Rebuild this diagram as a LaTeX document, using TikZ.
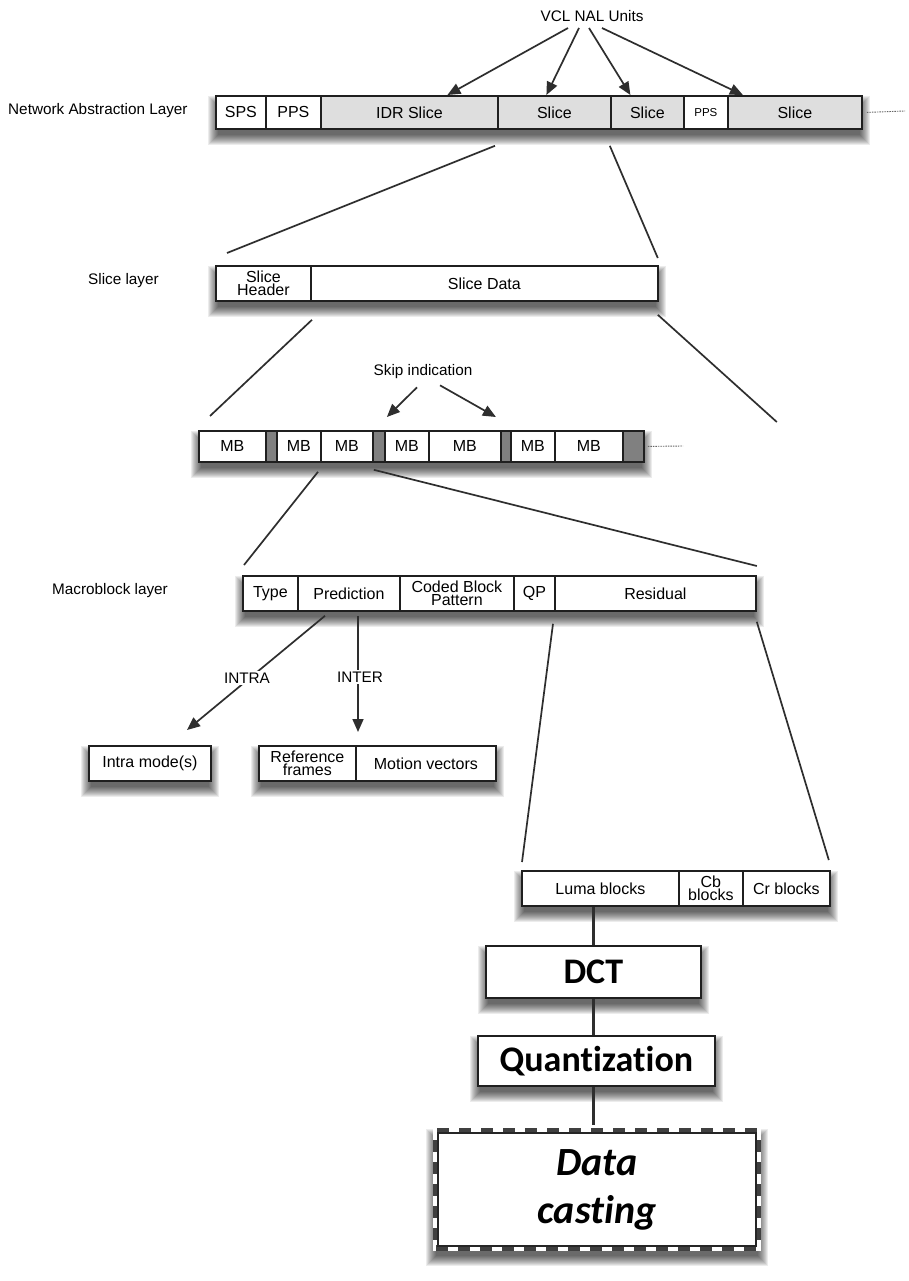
\documentclass[tikz,border=0pt]{standalone}
\usepackage{fontspec}
\setmainfont{Liberation Sans}
\newfontfamily\calib{Carlito}[Ligatures=NoCommon]
\usetikzlibrary{calc,arrows.meta}
\pgfdeclarelayer{bglayer}
\pgfdeclarelayer{shadowlayer}
\pgfsetlayers{bglayer,shadowlayer,main}

% soft drop shadow under the box spanned by two corner anchors
\newcommand\softshadow[2]{%
  \foreach \e in {-3,-2,...,7}{%
    \fill[black,opacity=0.075] ($(#1)+({-(\e)},{8-(\e)})$) rectangle ($(#2)+({\e},{8+(\e)})$);
  }}

\begin{document}
\begin{tikzpicture}[x=1pt,y=-1pt,
  cell/.style={draw=black!88, line width=1.8pt, fill=white, inner sep=0pt,
    anchor=north west, align=center, font=\fontsize{16}{13.5}\selectfont},
  sl/.style={cell, fill=black!13},
  gapcell/.style={cell, fill=black!50},
  lbl/.style={font=\fontsize{15.3}{15}\selectfont, inner sep=0pt},
  conn/.style={draw=black!82, line width=1.7pt},
  arr/.style={conn, -{Triangle[length=13pt,width=11pt]}},
  tail/.style={draw=black!60, line width=0.9pt, dash pattern=on 1.5pt off 1pt},
  big/.style={draw=black!88, line width=1.8pt, fill=white, inner sep=0pt,
    anchor=north west, font=\calib\bfseries\fontsize{36}{36}\selectfont},
]
\useasboundingbox (0,0) rectangle (908,1281);
\begin{pgfonlayer}{bglayer}
  \fill[white] (0,0) rectangle (908,1281);
\end{pgfonlayer}

% ---------- Network Abstraction Layer ----------
\node[lbl, anchor=west] (nallab) at (8,111) {Network Abstraction Layer};
\node[lbl] (vcl) at (592,16) {VCL NAL Units};
\node[cell, minimum width=50pt,  minimum height=33pt] (sps)  at (215,95) {SPS};
\node[cell, minimum width=55pt,  minimum height=33pt] (pps1) at (265,95) {PPS};
\node[sl,   minimum width=177pt, minimum height=33pt] (idr)  at (320,95) {IDR Slice};
\node[sl,   minimum width=113pt, minimum height=33pt] (slc1) at (497,95) {Slice};
\node[sl,   minimum width=73pt,  minimum height=33pt] (slc2) at (610,95) {Slice};
\node[cell, minimum width=44pt,  minimum height=33pt, font=\fontsize{11.5}{11}\selectfont] (pps2) at (683,95) {PPS};
\node[sl,   minimum width=134pt, minimum height=33pt] (slc3) at (727,95) {Slice};
\coordinate (naltail) at (905,111);
\draw[tail] ([xshift=4pt]slc3.east) -- (naltail);

\coordinate (v1) at (568,28);
\coordinate (v2) at (579,28);
\coordinate (v3) at (589,28);
\coordinate (v4) at (602,28);
\draw[arr] (v1) -- ([xshift=38pt]idr.north);
\draw[arr] (v2) -- ([xshift=-8pt]slc1.north);
\draw[arr] (v3) -- ([xshift=-17pt]slc2.north);
\draw[arr] (v4) -- ([xshift=-52pt]slc3.north);

% ---------- Slice layer ----------
\node[lbl, anchor=west] (slicelab) at (88,281) {Slice layer};
\node[cell, minimum width=95pt,  minimum height=35pt] (shdr)  at (215,265) {Slice\\Header};
\node[cell, minimum width=347pt, minimum height=35pt] (sdata) at (310,265) {Slice Data};
\draw[conn] ([shift={(-2,16)}]slc1.south west) -- ([shift={(12,-12)}]shdr.north west);
\draw[conn] ([shift={(-2,16)}]slc1.south east) -- ([shift={(-1,-7)}]sdata.north east);

% ---------- Macroblock sequence ----------
\node[cell,    minimum width=67pt, minimum height=31pt] (mb1) at (198,430) {MB};
\node[gapcell, minimum width=11pt, minimum height=31pt] (g1)  at (265,430) {};
\node[cell,    minimum width=44pt, minimum height=31pt] (mb2) at (276,430) {MB};
\node[cell,    minimum width=52pt, minimum height=31pt] (mb3) at (320,430) {MB};
\node[gapcell, minimum width=12pt, minimum height=31pt] (g2)  at (372,430) {};
\node[cell,    minimum width=44pt, minimum height=31pt] (mb4) at (384,430) {MB};
\node[cell,    minimum width=72pt, minimum height=31pt] (mb5) at (428,430) {MB};
\node[gapcell, minimum width=10pt, minimum height=31pt] (g3)  at (500,430) {};
\node[cell,    minimum width=44pt, minimum height=31pt] (mb6) at (510,430) {MB};
\node[cell,    minimum width=68pt, minimum height=31pt] (mb7) at (554,430) {MB};
\node[gapcell, minimum width=21pt, minimum height=31pt] (g4)  at (622,430) {};
\coordinate (mbtail) at (683,446);
\draw[tail] ([xshift=3pt]g4.east) -- (mbtail);

\draw[conn] ([shift={(2,18)}]sdata.south west) -- ([shift={(12,-14)}]mb1.north west);
\draw[conn] ([shift={(-1,13)}]sdata.south east) -- ([shift={(132,-8)}]g4.north east);

\node[lbl] (skip) at (423,372) {Skip indication};
\draw[arr] ([shift={(-6,8)}]skip.south) -- ([shift={(8,-13)}]g2.north);
\draw[arr] ([shift={(17,6)}]skip.south) -- ([shift={(-10,-13)}]g3.north);

% ---------- Macroblock layer ----------
\node[lbl, anchor=west] (macrolab) at (52,591) {Macroblock layer};
\node[cell, minimum width=55pt,  minimum height=35pt] (mtype) at (242,575) {Type};
\node[cell, minimum width=102pt, minimum height=35pt] (mpred) at (297,575) {Prediction};
\node[cell, minimum width=114pt, minimum height=35pt] (mcbp)  at (399,575) {Coded Block\\Pattern};
\node[cell, minimum width=41pt,  minimum height=35pt] (mqp)   at (513,575) {QP};
\node[cell, minimum width=201pt, minimum height=35pt] (mres)  at (554,575) {Residual};
\draw[conn] ([shift={(-2,9)}]mb3.south west) -- ([shift={(2,-10)}]mtype.north west);
\draw[conn] ([shift={(0,7)}]mb3.south east) -- ([shift={(0,-9)}]mres.north east);

% ---------- Prediction details ----------
\node[cell, minimum width=122pt, minimum height=35pt] (intra) at (88,745)  {Intra mode(s)};
\node[cell, minimum width=97pt,  minimum height=35pt] (ref)   at (258,745) {Reference\\frames};
\node[cell, minimum width=140pt, minimum height=35pt] (mv)    at (355,745) {Motion vectors};
\draw[arr] ([shift={(28,4)}]mpred.south west) -- ([shift={(99,-15)}]intra.north west);
\draw[arr] ([shift={(61,4)}]mpred.south west) -- ([shift={(100,-13)}]ref.north west);
\node[lbl, fill=white, inner sep=2pt] (intralab) at (247,678) {INTRA};
\node[lbl, fill=white, inner sep=2pt] (interlab) at (360,677) {INTER};

% ---------- Residual blocks ----------
\node[cell, minimum width=157pt, minimum height=35pt] (luma) at (521,870) {Luma blocks};
\node[cell, minimum width=64pt,  minimum height=35pt] (cb)   at (678,870) {Cb\\blocks};
\node[cell, minimum width=87pt,  minimum height=35pt] (cr)   at (742,870) {Cr blocks};
\draw[conn] ([shift={(-1,12)}]mres.south west) -- ([shift={(1,-8)}]luma.north west);
\draw[conn] ([shift={(0,10)}]mres.south east) -- ([shift={(-2,-10)}]cr.north east);

% ---------- Processing chain ----------
\node[big, minimum width=215pt, minimum height=52pt] (dct)   at (485,945)  {DCT};
\node[big, minimum width=237pt, minimum height=50pt] (quant) at (477,1035) {Quantization};
\node[big, draw=white, line width=6pt, minimum width=322pt, minimum height=117pt,
      align=center, font=\calib\bfseries\itshape\fontsize{40}{48}\selectfont,
      postaction={draw=black!75, line width=6pt, dash pattern=on 12pt off 10pt}]
      (dcast) at (433,1128) {Data\\casting};
\draw[draw=black!85, line width=1.2pt] ([shift={(5,5)}]dcast.north west) rectangle ([shift={(-5,-5)}]dcast.south east);
\draw[conn, line width=2.2pt] (dct.north |- luma.south) -- (dct.north);
\draw[conn, line width=2.2pt] (dct.south) -- (dct.south |- quant.north);
\draw[conn, line width=2.2pt] (dct.south |- quant.south) -- ([yshift=3pt]dct.south |- dcast.north);

% ---------- shadows ----------
\begin{pgfonlayer}{shadowlayer}
  \softshadow{sps.north west}{slc3.south east}
  \softshadow{shdr.north west}{sdata.south east}
  \softshadow{mb1.north west}{g4.south east}
  \softshadow{mtype.north west}{mres.south east}
  \softshadow{intra.north west}{intra.south east}
  \softshadow{ref.north west}{mv.south east}
  \softshadow{luma.north west}{cr.south east}
  \softshadow{dct.north west}{dct.south east}
  \softshadow{quant.north west}{quant.south east}
  \softshadow{dcast.north west}{dcast.south east}
\end{pgfonlayer}
\end{tikzpicture}
\end{document}
